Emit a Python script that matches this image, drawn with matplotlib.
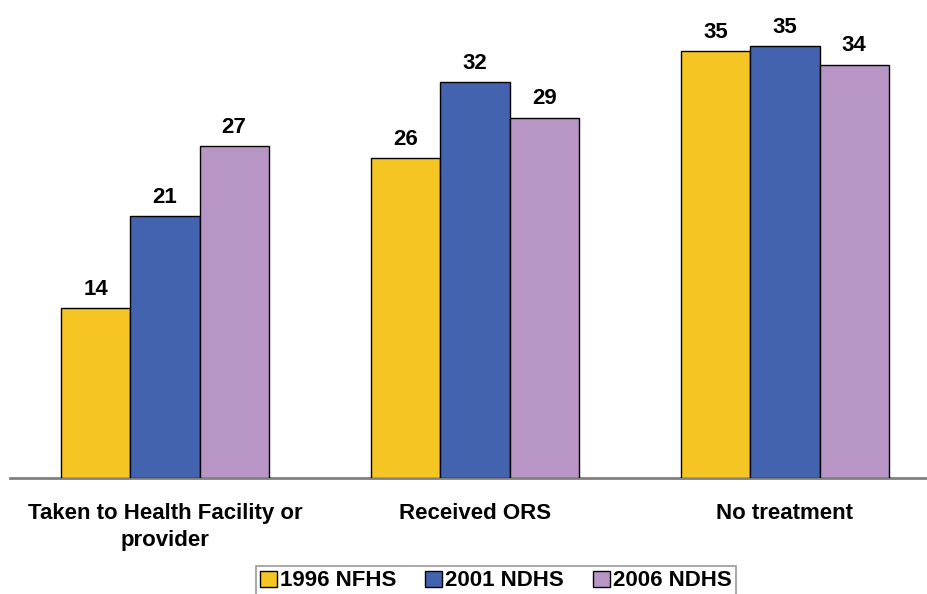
import numpy as np
import matplotlib.pyplot as plt

plt.rcParams['font.family'] = ['Liberation Sans', 'DejaVu Sans']

categories = ['Taken to Health Facility or\nprovider', 'Received ORS', 'No treatment']
series = ['1996 NFHS', '2001 NDHS', '2006 NDHS']
nfhs_1996 = [13.8, 26.0, 34.7]
ndhs_2001 = [21.3, 32.2, 35.1]
ndhs_2006 = [27.0, 29.3, 33.6]
colors = ['#F5C623', '#4363AE', '#B795C5']

fig = plt.figure(figsize=(9.28, 5.94), dpi=100)
# axes spans past the right edge, like the cropped original
ax = fig.add_axes([10 / 928, 0.196, 930 / 928, 0.786])

x = np.arange(len(categories))
width = 0.223
for i, (vals, name) in enumerate(zip([nfhs_1996, ndhs_2001, ndhs_2006], series)):
    pos = x + (i - 1) * width
    bars = ax.bar(pos, vals, width, color=colors[i], edgecolor='black',
                  linewidth=1.0, label=name, zorder=2)
    for b, v in zip(bars, vals):
        ax.annotate(f'{v:.0f}', (b.get_x() + b.get_width() / 2, v),
                    xytext=(0, 6), textcoords='offset points',
                    ha='center', va='bottom', fontsize=16, fontweight='bold')

ax.set_xlim(-0.5, 2.5)
ax.set_ylim(0, 38)
ax.set_yticks([])
ax.set_xticks(x)
ax.set_xticklabels(categories, fontsize=16, fontweight='bold', linespacing=1.4)
ax.tick_params(axis='x', length=0, pad=18)
for s in ['top', 'right', 'left']:
    ax.spines[s].set_visible(False)
ax.spines['bottom'].set_color('#808080')
ax.spines['bottom'].set_linewidth(2)
ax.spines['bottom'].set_zorder(1)

leg = fig.legend(loc='upper center', bbox_to_anchor=(496 / 928, 1 - 566 / 594),
                 ncol=3, frameon=True, fancybox=False, handlelength=0.75,
                 handleheight=0.75, handletextpad=0.15, columnspacing=1.3,
                 borderpad=0.2, borderaxespad=0,
                 prop={'weight': 'bold', 'size': 16})
leg.get_frame().set_edgecolor('#808080')
leg.get_frame().set_linewidth(1.2)

fig.savefig('out.png', dpi=100)
